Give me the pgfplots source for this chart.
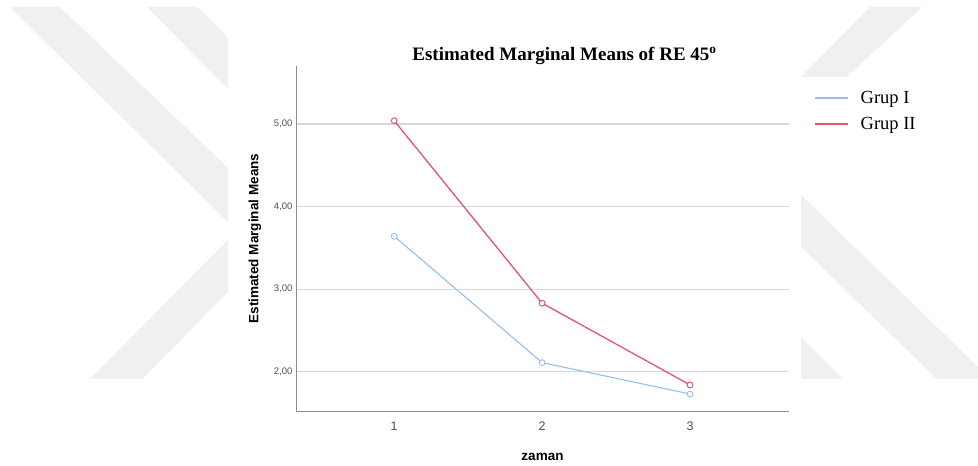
\documentclass[border=0pt]{standalone}
\usepackage{fontspec}
\setmainfont{Liberation Serif}
\setsansfont{Liberation Sans}
\usepackage{pgfplots}
\pgfplotsset{compat=1.18}
\definecolor{wm}{RGB}{240,240,240}
\definecolor{grp1}{RGB}{150,190,240}
\definecolor{grp2}{RGB}{226,84,112}
\definecolor{gridc}{RGB}{215,215,215}
\definecolor{axc}{RGB}{140,140,140}
\definecolor{tickc}{RGB}{80,80,80}
\begin{document}
\begin{tikzpicture}
\path[use as bounding box] (0,0) rectangle (978bp,466bp);
\begin{scope}[x=1bp,y=-1bp,yshift=466bp]
\fill[wm] (10,7) -- (60,7) -- (228,168) -- (228,222) -- cycle;
\fill[wm] (228,240) -- (228,292) -- (142,379) -- (90,379) -- cycle;
\fill[wm] (147,7) -- (197,7) -- (228,38) -- (228,89) -- cycle;
\fill[wm] (801,77) -- (847,77) -- (922,7) -- (870,7) -- cycle;
\fill[wm] (801,195) -- (978,367) -- (978,379) -- (937,379) -- (801,247) -- cycle;
\fill[wm] (801,337) -- (843,379) -- (801,379) -- cycle;
\end{scope}
\begin{axis}[
  at={(296bp,55bp)}, anchor=south west,
  scale only axis, width=493bp, height=345bp,
  xmin=0.336, xmax=3.669, ymin=1.524, ymax=5.703,
  axis x line*=bottom, axis y line*=left,
  axis line style={-, axc, line width=0.9bp},
  xtick={1,2,3}, ytick={2,3,4,5},
  yticklabels={{2,00},{3,00},{4,00},{5,00}},
  major tick length=0pt,
  ymajorgrids, grid style={gridc, line width=1.1bp},
  x tick label style={font=\sffamily\fontsize{12.5bp}{14bp}\selectfont, text=tickc, yshift=-7bp},
  y tick label style={font=\sffamily\fontsize{9.5bp}{11bp}\selectfont, text=tickc},
  /pgf/number format/assume math mode=true,
  xlabel={zaman}, ylabel={Estimated Marginal Means},
  xlabel style={font=\sffamily\bfseries\fontsize{13.5bp}{15bp}\selectfont, at={(axis description cs:0.5,-0.1333)}, anchor=center},
  ylabel style={font=\sffamily\bfseries\fontsize{13.5bp}{15bp}\selectfont, at={(axis description cs:-0.0832,0.5)}, anchor=center},
  title={Estimated Marginal Means of RE 45\textsuperscript{o}},
  title style={font=\bfseries\fontsize{19bp}{21bp}\selectfont, at={(axis description cs:0.5446,1.0116)}, anchor=center},
  legend style={draw=none, fill=none, at={(axis description cs:1.050,0.933)}, anchor=north west,
    font=\fontsize{18.5bp}{20bp}\selectfont, inner sep=0pt, row sep=8bp},
  legend cell align=left,
  legend image code/.code={\draw[#1] (0bp,0bp) -- (33bp,0bp); \path[draw=none] (0bp,0bp) rectangle (44bp,0.1bp);},
  clip=false,
]
\addlegendimage{grp1, line width=1.6bp}
\addlegendentry{Grup I}
\addlegendimage{grp2, line width=1.6bp}
\addlegendentry{Grup II}
\addplot[grp1, line width=1.1bp, mark=*, mark size=2.9bp, mark options={fill=white, line width=0.9bp}, forget plot]
  coordinates {(1,3.64) (2,2.11) (3,1.73)};
\addplot[grp2, line width=1.3bp, mark=*, mark size=2.9bp, mark options={fill=white, line width=1bp}, forget plot]
  coordinates {(1,5.04) (2,2.83) (3,1.84)};
\end{axis}
\end{tikzpicture}
\end{document}
